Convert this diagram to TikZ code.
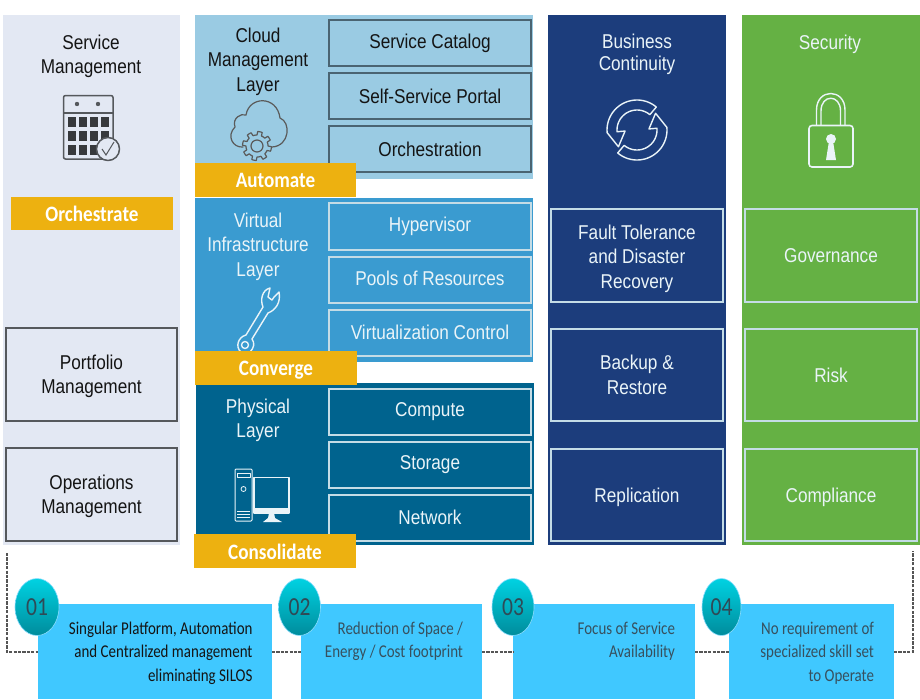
\documentclass[tikz,border=0pt]{standalone}
\usepackage{fontspec}
\usetikzlibrary{shapes.geometric}
\setmainfont[FakeStretch=0.86]{Liberation Sans}
\newfontfamily\labelfont[FakeStretch=0.83]{Carlito}
\newfontfamily\bannerfont[FakeStretch=0.87]{Carlito}
\definecolor{svcpanel}{HTML}{E3E8F3}
\definecolor{banner}{HTML}{EDB110}
\definecolor{cloudp}{HTML}{9ACBE3}
\definecolor{virtp}{HTML}{3A9BD0}
\definecolor{physp}{HTML}{00638E}
\definecolor{bizp}{HTML}{1C3D7C}
\definecolor{secp}{HTML}{65B144}
\definecolor{skyb}{HTML}{40C8FF}
\definecolor{inkd}{HTML}{141414}
\definecolor{edged}{HTML}{4A6472}
\definecolor{iconc}{HTML}{55585C}
\definecolor{lightt}{HTML}{EAF4F8}
\definecolor{lightb}{HTML}{C4DCE6}
\definecolor{numink}{HTML}{2F4A56}
\definecolor{textgr}{HTML}{37505E}
\definecolor{dashc}{HTML}{555555}
\definecolor{bubtop}{HTML}{00D2E2}
\definecolor{bubbot}{HTML}{008C9C}
\newcommand\bx[7]{\pgfmathsetmacro\bxcx{(#2+#4)/2}\pgfmathsetmacro\bxcy{(#3+#5)/2}\pgfmathsetmacro\bxw{#4-#2}\pgfmathsetmacro\bxh{#5-#3}\node[#6,minimum width=\bxw pt,minimum height=\bxh pt] (#1) at (\bxcx,\bxcy) {#7};}
\tikzset{
  x=1pt,y=-1pt,
  every node/.style={inner sep=0pt,outer sep=0pt},
  txt/.style={font=\fontsize{20}{24.5}\selectfont,align=center},
  darkbox/.style={draw=edged,line width=1.5pt,txt,text=inkd},
  lightbox/.style={draw=lightb,line width=1.3pt,txt,text=lightt},
  greybox/.style={fill=svcpanel,draw=iconc,line width=2pt},
  bannerbox/.style={fill=banner},
  bannertext/.style={text=white,font=\bannerfont\bfseries\fontsize{22}{24}\selectfont},
  ttl/.style={txt,text=#1},
  bluebox/.style={fill=skyb},
  bubble/.style={ellipse,shade,top color=bubtop,bottom color=bubbot,draw=skyb!60!white,line width=.6pt,text=numink,font=\labelfont\fontsize{26}{28}\selectfont},
  bluetext/.style={font=\labelfont\fontsize{18}{23.4}\selectfont,align=right,text=#1},
  dashline/.style={draw=dashc,line width=1.1pt,dash pattern=on 3.2pt off 1.2pt},
  iconline/.style={draw=iconc,line width=1.5pt,line join=round},
  whiteline/.style={draw=lightt,line width=1.4pt,line join=round}
}
\begin{document}
\begin{tikzpicture}
\useasboundingbox (0,0) rectangle (920,699);
\fill[white] (0,0) rectangle (920,699);
% dashed connector ends
\coordinate (dl) at (7,553);
\coordinate (dlc) at (7,652);
\coordinate (dr) at (913,551);
\coordinate (drc) at (913,652);
% panels
\bx{svc}{3}{15}{180}{545}{fill=svcpanel}{}
\bx{cloud}{195}{15}{533}{179}{fill=cloudp}{}
\bx{virt}{195}{198}{533}{362}{fill=virtp}{}
\bx{phys}{196}{383}{534}{545}{fill=physp}{}
\bx{biz}{548}{15}{726}{545}{fill=bizp}{}
\bx{sec}{742}{15}{920}{545}{fill=secp}{}
% titles
\node[ttl=inkd] (tSvc) at (91,56.5) {Service\\Management};
\node[ttl=inkd] (tCloud) at (258,61.5) {Cloud\\Management\\Layer};
\node[ttl=lightt] (tVirt) at (258,246.5) {Virtual\\Infrastructure\\Layer};
\node[ttl=lightt] (tPhys) at (258,420.5) {Physical\\Layer};
\node[ttl=lightt,font=\fontsize{20}{22}\selectfont] (tBiz) at (637,54.5) {Business\\Continuity};
\node[ttl=lightt] (tSec) at (830,44) {Security};
% inner boxes
\bx{s1}{329}{20}{531}{66}{darkbox}{Service Catalog}
\bx{s2}{329}{73}{531}{119}{darkbox}{Self-Service Portal}
\bx{s3}{329}{126}{531}{172}{darkbox}{Orchestration}
\bx{v1}{329}{203}{531}{250}{lightbox}{Hypervisor}
\bx{v2}{329}{257}{531}{303}{lightbox}{}
\node[ttl=lightt] (v2t) at ([yshift=1.5pt]v2) {Pools of Resources};
\bx{v3}{329}{310}{531}{356}{lightbox}{}
\node[ttl=lightt] (v3t) at ([yshift=1pt]v3) {Virtualization Control};
\bx{p1}{329}{389}{531}{435}{lightbox}{Compute}
\bx{p2}{329}{442}{531}{488}{lightbox}{Storage}
\bx{p3}{329}{495}{531}{541}{lightbox}{}
\node[ttl=lightt] (p3t) at ([yshift=1pt]p3) {Network};
\bx{g1}{6}{328}{177}{421}{greybox}{}
\node[ttl=inkd] (g1t) at ([yshift=-2pt]g1) {Portfolio\\Management};
\bx{g2}{6}{448}{177}{541}{greybox}{}
\node[ttl=inkd] (g2t) at ([yshift=-2pt]g2) {Operations\\Management};
\bx{b1}{551}{209}{723}{302}{lightbox}{}
\node[ttl=lightt] (b1t) at ([yshift=-3pt]b1) {Fault Tolerance\\and Disaster\\Recovery};
\bx{b2}{551}{329}{723}{421}{lightbox}{Backup \&\\Restore}
\bx{b3}{551}{449}{723}{541}{lightbox}{}
\node[ttl=lightt] (b3t) at ([yshift=-2.5pt]b3) {Replication};
\bx{c1}{745}{209}{917}{302}{lightbox}{Governance}
\bx{c2}{745}{329}{917}{421}{lightbox}{Risk}
\bx{c3}{745}{449}{917}{541}{lightbox}{}
\node[ttl=lightt] (c3t) at ([yshift=-2.5pt]c3) {Compliance};
% calendar icon
\draw[iconline,rounded corners=2pt] (63.5,95.5) rectangle (113,159);
\draw[iconline] (63.5,113) -- (113,113);
\fill[iconc] (77,104) circle (2.2) (98,104) circle (2.2);
\foreach \cx in {68,79,90,101} \foreach \cy in {117,131,145} {
  \fill[iconc!65!black] (\cx,\cy) rectangle ++(8,9.5);
}
\draw[iconline,fill=svcpanel] (108,149) circle (11.5);
\draw[iconc,line width=1pt] (102,149) -- (106,155) -- (114,142);
% cloud icon
\draw[draw=inkd!70,line width=1.2pt,line cap=round] (243,147) .. controls (233,148) and (226,136) .. (235,127) .. controls (232,118) and (241,113) .. (246,115) .. controls (249,96) and (277,95) .. (280,118) .. controls (291,122) and (290,146) .. (272,147);
\draw[draw=inkd!70,line width=1.2pt,fill=cloudp,line join=round] plot[samples=121,domain=0:360] ({257+(11+3.5*(sin(8*\x)>0))*cos(\x)},{146+(11+3.5*(sin(8*\x)>0))*sin(\x)}) -- cycle;
\draw[draw=inkd!70,line width=1.2pt] (257,146) circle (6);
% wrench icon
\draw[whiteline] (252,339) -- (268,313) .. controls (276,310) and (281,302) .. (279,292) -- (274,297) -- (272,300) -- (268,297) -- (270,288) .. controls (262,290) and (260,300) .. (263,307) -- (246,335) .. controls (238,337) and (235,347) .. (241,352) -- (250,352) .. controls (254,348) and (255,343) .. (252,339) -- cycle;
\draw[whiteline] (245,345) circle (3.5);
% computer icon
\draw[whiteline,line width=1pt,rounded corners=1pt] (235,469) rectangle (252,521);
\draw[whiteline,line width=1pt] (237,473) rectangle (250,477);
\draw[whiteline,line width=.8pt] (243.5,489) circle (2.5);
\draw[whiteline,line width=.8pt] (237,511) -- (250,511) (237,514) -- (250,514) (237,517) -- (250,517);
\draw[whiteline,line width=1.1pt] (254,477.5) rectangle (289,513);
\fill[lightt] (254,508) rectangle (289,513.5);
\fill[lightt] (269,513) -- (274,513) -- (275,518) -- (282,522) -- (263,522) -- (268,518) -- cycle;
% sync icon
\foreach \rot in {0,180} {
  \draw[whiteline] plot[samples=30,domain=5:-130] ({637+30*cos(\x+\rot)},{130-30*sin(\x+\rot)})
    -- plot[samples=30,domain=-130:5] ({637+20*cos(\x+\rot)},{130-20*sin(\x+\rot)})
    -- ({637+12*cos(5+\rot)},{130-12*sin(5+\rot)})
    -- ({637+25*cos(42+\rot)},{130-25*sin(42+\rot)})
    -- ({637+30*cos(5+\rot)},{130-30*sin(5+\rot)}) -- cycle;
}
% lock icon
\draw[whiteline,line width=1.6pt,rounded corners=3pt] (809,125.5) rectangle (853,167);
\draw[whiteline] (816.5,125) -- (816.5,110) .. controls (816.5,88) and (845,88) .. (845,110) -- (845,125);
\draw[whiteline] (821,125) -- (821,111) .. controls (821,94) and (840.5,94) .. (840.5,111) -- (840.5,125);
\fill[lightt] (831,139) circle (5);
\fill[lightt] (829,141) -- (833,141) -- (836,160) -- (826,160) -- cycle;
% banners
\bx{bOrch}{11}{197}{173}{230}{bannerbox}{}
\node[bannertext] (bOrchT) at (bOrch) {Orchestrate};
\bx{bAuto}{195}{163}{356}{197}{bannerbox}{}
\node[bannertext] (bAutoT) at (bAuto) {Automate};
\bx{bConv}{195}{351}{357}{385}{bannerbox}{}
\node[bannertext] (bConvT) at ([yshift=-2pt]bConv) {Converge};
\bx{bCons}{194}{534}{356}{568}{bannerbox}{}
\node[bannertext] (bConsT) at ([yshift=-1pt]bCons) {Consolidate};
% bottom boxes
\bx{k1}{38}{604}{272}{699}{bluebox}{}
\bx{k2}{301}{604}{482}{699}{bluebox}{}
\bx{k3}{513}{604}{695}{699}{bluebox}{}
\bx{k4}{729}{604}{894}{699}{bluebox}{}
% connectors
\path (k1.west|-dlc) coordinate (k1w) (k1.east|-dlc) coordinate (k1e)
      (k2.west|-dlc) coordinate (k2w) (k2.east|-dlc) coordinate (k2e)
      (k3.west|-dlc) coordinate (k3w) (k3.east|-dlc) coordinate (k3e)
      (k4.west|-dlc) coordinate (k4w) (k4.east|-dlc) coordinate (k4e);
\draw[dashline] (dl) -- (dlc) -- (k1w);
\draw[dashline] (k1e) -- (k2w);
\draw[dashline] (k2e) -- (k3w);
\draw[dashline] (k3e) -- (k4w);
\draw[dashline] (k4e) -- (drc) -- (dr);
% bubbles
\node[bubble,minimum width=44pt,minimum height=57pt] (n1) at (37,607) {01};
\node[bubble,minimum width=42pt,minimum height=57pt] (n2) at (299.5,607) {02};
\node[bubble,minimum width=42pt,minimum height=57pt] (n3) at (513,607) {03};
\node[bubble,minimum width=39pt,minimum height=57pt] (n4) at (721.5,607) {04};
% bottom texts
\node[bluetext=inkd,anchor=north east] (x1) at (252.5,622) {Singular Platform, Automation\\and Centralized management\\eliminating SILOS};
\node[bluetext=textgr,anchor=north east] (x2) at (463,622) {Reduction of Space /\\Energy / Cost footprint};
\node[bluetext=textgr,anchor=north east] (x3) at (675,622) {Focus of Service\\Availability};
\node[bluetext=textgr,anchor=north east] (x4) at (874,622) {No requirement of\\specialized skill set\\to Operate};
\end{tikzpicture}
\end{document}
